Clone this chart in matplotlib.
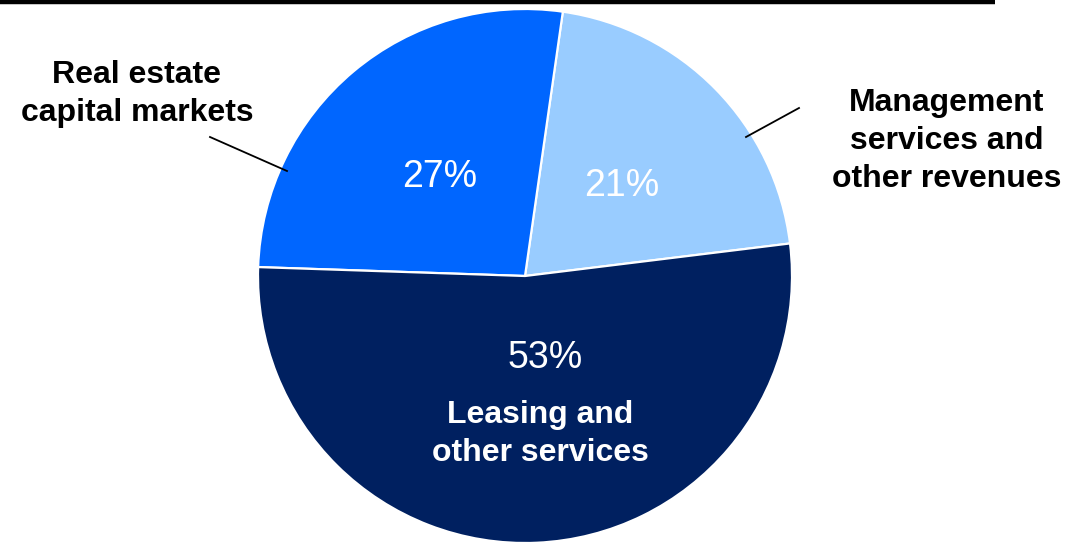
import matplotlib
matplotlib.use("Agg")
import matplotlib.pyplot as plt

plt.rcParams['font.family'] = ['Liberation Sans', 'DejaVu Sans']

categories = ["Management\nservices and\nother revenues",
              "Real estate\ncapital markets",
              "Leasing and\nother services"]
values = [21, 27, 53]
colors = ["#99CCFF", "#0066FF", "#002060"]

W, H = 1073, 544
fig = plt.figure(figsize=(W / 100, H / 100), dpi=100)
ax = fig.add_axes([0, 0, 1, 1])

def Y(py):
    return H - py

ax.pie(values, colors=colors, startangle=7, counterclock=True,
       center=(525, Y(276)), radius=267,
       wedgeprops=dict(edgecolor="white", linewidth=1.6))
ax.set_xlim(0, W)
ax.set_ylim(0, H)
ax.set_aspect("equal")
ax.axis("off")

# top rule
ax.plot([0, 995], [Y(2), Y(2)], color="black", lw=3.2, solid_capstyle="butt")

pct_pos = [(622, 186), (440, 177), (545, 358)]
for v, (px, py) in zip(values, pct_pos):
    ax.text(px, Y(py), f"{v}%", color="white", fontsize=27,
            ha="center", va="center")

# labels
LS = 1.36
ax.text(947, Y(141), categories[0], fontsize=23, fontweight="bold",
        ha="center", va="center", linespacing=LS)
ax.text(137, Y(94), categories[1], fontsize=23, fontweight="bold",
        ha="center", va="center", linespacing=LS)
ax.text(540, Y(434), categories[2], fontsize=23, fontweight="bold",
        color="white", ha="center", va="center", linespacing=LS)

# leader lines
ax.plot([799, 746], [Y(108), Y(137)], color="black", lw=1.3)
ax.plot([210, 287], [Y(137), Y(171)], color="black", lw=1.3)

fig.savefig("out.png", dpi=100)
